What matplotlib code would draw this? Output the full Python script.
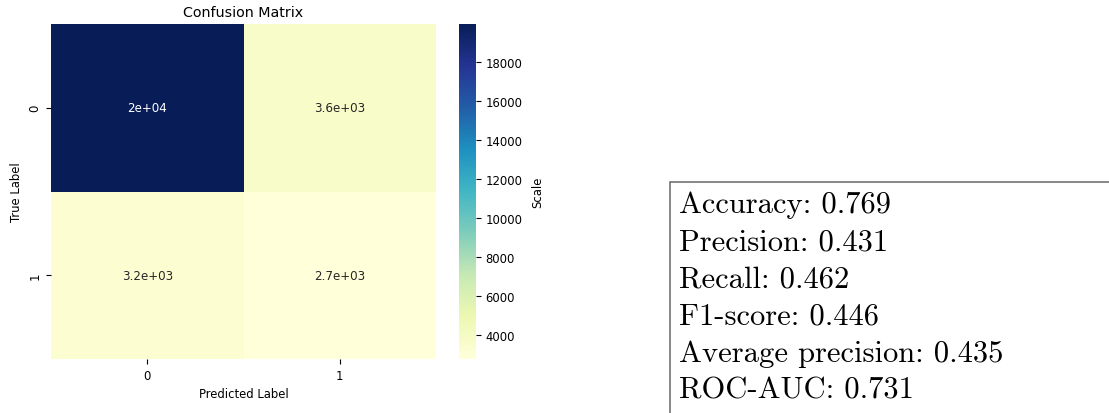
# Confusion matrix heatmap with a box of summary metrics

import numpy as np
import matplotlib
matplotlib.use("Agg")
import matplotlib.pyplot as plt
import matplotlib.patches as patches
import seaborn as sns

# confusion matrix counts (rows: true label, cols: predicted label)
class_labels = ["0", "1"]
row_true0 = [19970, 3620]
row_true1 = [3180, 2745]

metric_names = ["Accuracy", "Precision", "Recall", "F1-score",
                "Average precision", "ROC-AUC"]
metric_values = [0.769, 0.431, 0.462, 0.446, 0.435, 0.731]

W, H = 1109, 414
fig = plt.figure(figsize=(W / 100, H / 100), dpi=100)


def px_box(x0, y0, x1, y1):
    """pixel box (top-left origin) -> figure fraction [l, b, w, h]"""
    return [x0 / W, 1 - y1 / H, (x1 - x0) / W, (y1 - y0) / H]


ax = fig.add_axes(px_box(51, 25, 436, 360))
cax = fig.add_axes(px_box(459, 25, 476, 360))

cm = np.array([row_true0, row_true1])
sns.heatmap(cm, annot=True, cmap="YlGnBu", ax=ax, cbar_ax=cax,
            xticklabels=class_labels, yticklabels=class_labels,
            annot_kws={"size": 8.6},
            cbar_kws={"label": "Scale"})

ax.set_title("Confusion Matrix", fontsize=10.3)
ax.set_xlabel("Predicted Label", fontsize=8.4)
ax.set_ylabel("True Label", fontsize=8.4)
ax.tick_params(labelsize=8.4)
plt.setp(ax.get_yticklabels(), rotation=90, va="center")
plt.setp(ax.get_xticklabels(), rotation=0)
cax.tick_params(labelsize=8.4)
cax.set_ylabel("Scale", fontsize=8.4, labelpad=6)

# metrics box, runs off the right/bottom edge like the original
box = patches.Rectangle((670 / W, 1 - 600 / H), 600 / W, 417 / H,
                        transform=fig.transFigure, fill=False,
                        edgecolor="0.45", linewidth=1.2, clip_on=False)
fig.add_artist(box)

x_text = 679 / W
y_first = 213      # baseline of first line, pixels from top
dy = 37.2
for i, (name, val) in enumerate(zip(metric_names, metric_values)):
    fig.text(x_text, 1 - (y_first + i * dy) / H, f"{name}: {val:.3f}",
             family="cmr10", fontsize=22, va="baseline", ha="left")

fig.savefig("out.png", dpi=100)
